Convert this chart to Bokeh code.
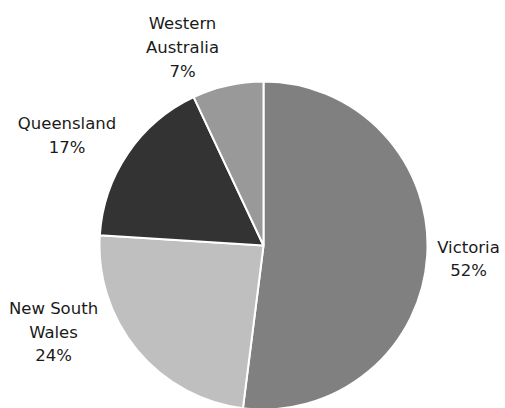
import math
from bokeh.plotting import figure
from bokeh.models import ColumnDataSource, Range1d
from bokeh.embed import file_html
from bokeh.resources import INLINE
from bokeh.core.properties import value

# ---- data ----
regions = ["Victoria", "New South Wales", "Queensland", "Western Australia"]
label_names = ["Victoria", "New South\nWales", "Queensland", "Western\nAustralia"]
shares = [52, 24, 17, 7]

# ---- style / layout ----
colors = ["#808080", "#bfbfbf", "#333333", "#999999"]
W, H = 505, 408
CX, CY, R = 263, 163, 164
# label block centre offsets from pie centre (pixels)
label_offsets = [(205, -13.5), (-210, -86.5), (-196.5, 110), (-81, 198)]

total = sum(shares)
starts, ends = [], []
acc = 0
for s in shares:
    starts.append(math.pi / 2 - 2 * math.pi * acc / total)
    acc += s
    ends.append(math.pi / 2 - 2 * math.pi * acc / total)

src = ColumnDataSource(dict(region=regions, share=shares, start=starts, end=ends, color=colors))

p = figure(width=W, height=H, x_range=Range1d(0, W), y_range=Range1d(0, H),
           output_backend="svg", toolbar_location=None, min_border=0)
p.axis.visible = False
p.grid.visible = False
p.outline_line_color = None
p.background_fill_color = "white"
p.border_fill_color = "white"

p.wedge(x=CX, y=CY, radius=R, start_angle="start", end_angle="end", direction="clock",
        fill_color="color", line_color="white", line_width=2, source=src)

lsrc = ColumnDataSource(dict(
    x=[CX + dx for dx, dy in label_offsets],
    y=[CY + dy for dx, dy in label_offsets],
    text=[f"{n}\n{v}%" for n, v in zip(label_names, shares)],
))
p.text(x="x", y="y", text="text", source=lsrc, text_align="center", text_baseline="middle",
       text_font=value("DejaVu Sans"), text_font_size=value("16.5px"),
       text_line_height=1.25, text_color="#1a1a1a")

open("out.html", "w").write(file_html(p, INLINE))
